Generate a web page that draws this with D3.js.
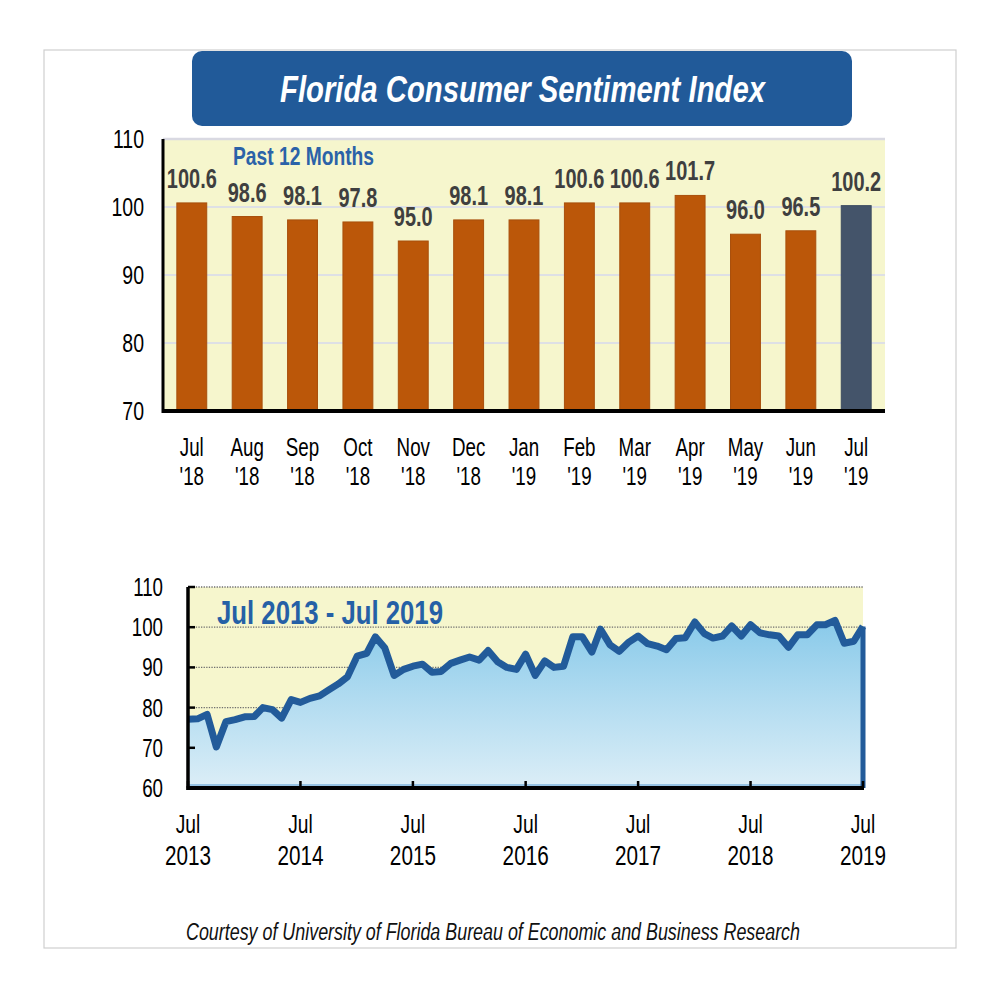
<!DOCTYPE html>
<html>
<head>
<meta charset="utf-8">
<script src="https://cdn.jsdelivr.net/npm/d3@7"></script>
<style>
  html, body { margin: 0; padding: 0; background: #ffffff; }
  svg { display: block; }
  text { font-family: "Liberation Sans", Arial, sans-serif; }
</style>
</head>
<body>
<svg id="chart" width="1000" height="1000"></svg>
<script>
// ---------------- DATA ----------------
const title = "Florida Consumer Sentiment Index";
const barSubtitle = "Past 12 Months";
const barMonths = ["Jul", "Aug", "Sep", "Oct", "Nov", "Dec", "Jan", "Feb", "Mar", "Apr", "May", "Jun", "Jul"];
const barYears  = ["'18", "'18", "'18", "'18", "'18", "'18", "'19", "'19", "'19", "'19", "'19", "'19", "'19"];
const barValues = [100.6, 98.6, 98.1, 97.8, 95.0, 98.1, 98.1, 100.6, 100.6, 101.7, 96.0, 96.5, 100.2];
const barYTicks = [70, 80, 90, 100, 110];

const lineSubtitle = "Jul 2013 - Jul 2019";
const lineStart = { year: 2013, month: 6 }; // July 2013 (0-based month)
const lineValues = [
  77.1, 77.2, 78.3, 70.2, 76.5, 77.0, 77.7, 77.8, 80.0, 79.5, 77.4, 82.0,   // Jul13 - Jun14
  81.3, 82.3, 82.9, 84.4, 85.9, 87.7, 92.8, 93.5, 97.6, 94.8, 88.0, 89.5,   // Jul14 - Jun15
  90.3, 90.8, 88.8, 89.0, 91.0, 91.8, 92.6, 91.8, 94.2, 91.4, 90.0, 89.5,   // Jul15 - Jun16
  93.3, 88.0, 91.6, 90.0, 90.3, 97.6, 97.6, 93.8, 99.5, 95.6, 94.0, 96.3,   // Jul16 - Jun17
  97.8, 95.9, 95.3, 94.4, 97.2, 97.4, 101.3, 98.4, 97.3, 97.8, 100.3, 97.8, // Jul17 - Jun18
  100.6, 98.6, 98.1, 97.8, 95.0, 98.1, 98.1, 100.6, 100.6, 101.7, 96.0, 96.5, // Jul18 - Jun19
  100.2                                                                       // Jul19
];
const lineYTicks = [60, 70, 80, 90, 100, 110];
const lineXTickMonth = ["Jul", "Jul", "Jul", "Jul", "Jul", "Jul", "Jul"];
const lineXTickYear  = ["2013", "2014", "2015", "2016", "2017", "2018", "2019"];
const footer = "Courtesy of University of Florida Bureau of Economic and Business Research";

// ---------------- STYLE ----------------
const SX = 0.74; // horizontal condense for narrow look
const svg = d3.select("#chart");

function ctext(g, x, y, str, opts) {
  const t = g.append("text")
    .attr("transform", `translate(${x},${y}) scale(${opts.sx ?? SX},1)`)
    .attr("text-anchor", opts.anchor || "middle")
    .attr("font-size", opts.size)
    .attr("font-weight", opts.weight || "normal")
    .attr("font-style", opts.style || "normal")
    .attr("fill", opts.fill || "#000")
    .text(str);
  return t;
}

// outer frame
svg.append("rect").attr("x", 44).attr("y", 50).attr("width", 912).attr("height", 898)
  .attr("fill", "none").attr("stroke", "#cfcfcf").attr("stroke-width", 1.2);

// title box
svg.append("rect").attr("x", 192).attr("y", 51).attr("width", 660).attr("height", 75)
  .attr("rx", 10).attr("fill", "#215a99");
svg.append("text").attr("x", 280).attr("y", 102)
  .attr("font-size", 37).attr("font-weight", "bold").attr("font-style", "italic")
  .attr("fill", "#ffffff").attr("textLength", 485).attr("lengthAdjust", "spacingAndGlyphs")
  .text(title);

// ---------------- TOP BAR CHART ----------------
const tb = { x0: 163, x1: 885, y0: 139, y1: 411 };
const xb = d3.scaleBand().domain(d3.range(barValues.length)).range([tb.x0, tb.x1])
  .paddingInner(0.46).paddingOuter(0.25);
const yb = d3.scaleLinear().domain([70, 110]).range([tb.y1, tb.y0]);

const gTop = svg.append("g");
gTop.append("rect").attr("x", tb.x0).attr("y", tb.y0)
  .attr("width", tb.x1 - tb.x0).attr("height", tb.y1 - tb.y0).attr("fill", "#f6f6cd");

gTop.selectAll("line.grid").data(barYTicks.filter(d => d > 70)).enter().append("line")
  .attr("x1", tb.x0).attr("x2", tb.x1)
  .attr("y1", d => yb(d)).attr("y2", d => yb(d))
  .attr("stroke", d => d === 110 ? "#d9d9e2" : "#d6d8ec")
  .attr("stroke-width", d => d === 110 ? 2.5 : 1.5);

gTop.selectAll("rect.bar").data(barValues).enter().append("rect")
  .attr("x", (d, i) => xb(i)).attr("width", xb.bandwidth())
  .attr("y", d => yb(d)).attr("height", d => yb(70) - yb(d))
  .attr("fill", (d, i) => i === barValues.length - 1 ? "#44546a" : "#bb5709")
  .attr("stroke", (d, i) => i === barValues.length - 1 ? "#3d4c60" : "#a84f0c")
  .attr("stroke-width", 1);

barValues.forEach((v, i) => {
  ctext(gTop, xb(i) + xb.bandwidth() / 2, yb(v) - 15, v.toFixed(1),
    { size: 27, weight: "bold", fill: "#3f3f3f", sx: 0.74 });
});

// axes
gTop.append("line").attr("x1", tb.x0).attr("x2", tb.x0).attr("y1", tb.y0).attr("y2", tb.y1 + 2)
  .attr("stroke", "#000").attr("stroke-width", 3);
gTop.append("line").attr("x1", tb.x0 - 1).attr("x2", tb.x1).attr("y1", tb.y1).attr("y2", tb.y1)
  .attr("stroke", "#000").attr("stroke-width", 4);

barYTicks.forEach(t => {
  ctext(gTop, 144, yb(t) + 9, String(t), { size: 26, anchor: "end", sx: 0.75 });
});
barMonths.forEach((m, i) => {
  const cx = xb(i) + xb.bandwidth() / 2;
  ctext(gTop, cx, 456, m, { size: 25, sx: 0.75 });
  ctext(gTop, cx, 485, barYears[i], { size: 25, sx: 0.75 });
});

gTop.append("text").attr("x", 233).attr("y", 165)
  .attr("font-size", 25).attr("font-weight", "bold").attr("fill", "#2b62a8")
  .attr("textLength", 141).attr("lengthAdjust", "spacingAndGlyphs").text(barSubtitle);

// ---------------- BOTTOM LINE CHART ----------------
const bb = { x0: 188, x1: 863, y0: 587, y1: 788 };
const dates = lineValues.map((v, i) => new Date(lineStart.year, lineStart.month + i, 1));
const xl = d3.scaleTime().domain([dates[0], dates[dates.length - 1]]).range([bb.x0, bb.x1]);
const yl = d3.scaleLinear().domain([60, 110]).range([bb.y1, bb.y0]);
const pts = lineValues.map((v, i) => ({ d: dates[i], v }));

const gBot = svg.append("g");
const defs = svg.append("defs");
const grad = defs.append("linearGradient").attr("id", "areaGrad")
  .attr("gradientUnits", "userSpaceOnUse").attr("x1", 0).attr("x2", 0)
  .attr("y1", yl(100)).attr("y2", yl(60));
grad.append("stop").attr("offset", 0).attr("stop-color", "#8ccbea");
grad.append("stop").attr("offset", 0.35).attr("stop-color", "#a9d8ef");
grad.append("stop").attr("offset", 1).attr("stop-color", "#dceef7");

gBot.append("rect").attr("x", bb.x0).attr("y", bb.y0)
  .attr("width", bb.x1 - bb.x0).attr("height", bb.y1 - bb.y0).attr("fill", "#f6f6cd");

gBot.selectAll("line.grid").data(lineYTicks.filter(d => d > 60)).enter().append("line")
  .attr("x1", bb.x0).attr("x2", bb.x1)
  .attr("y1", d => yl(d)).attr("y2", d => yl(d))
  .attr("stroke", "#6f6f6f").attr("stroke-width", 1.3).attr("stroke-dasharray", "1.3,1.3");

const area = d3.area().x(p => xl(p.d)).y0(yl(60)).y1(p => yl(p.v));
gBot.append("path").datum(pts).attr("d", area).attr("fill", "url(#areaGrad)");

// thin blue line along the bottom
gBot.append("line").attr("x1", bb.x0).attr("x2", bb.x1).attr("y1", bb.y1 - 3).attr("y2", bb.y1 - 3)
  .attr("stroke", "#7fb3dc").attr("stroke-width", 1.5);

const line = d3.line().x(p => xl(p.d)).y(p => yl(p.v));
gBot.append("path").datum(pts).attr("d", line)
  .attr("fill", "none").attr("stroke", "#225b9a").attr("stroke-width", 7)
  .attr("stroke-linejoin", "round").attr("stroke-linecap", "butt");
// right edge drop
const last = pts[pts.length - 1];
gBot.append("line").attr("x1", xl(last.d)).attr("x2", xl(last.d))
  .attr("y1", yl(last.v)).attr("y2", yl(60))
  .attr("stroke", "#225b9a").attr("stroke-width", 5);

// axes
gBot.append("line").attr("x1", bb.x0).attr("x2", bb.x0).attr("y1", bb.y0).attr("y2", bb.y1 + 2)
  .attr("stroke", "#000").attr("stroke-width", 3.5);
gBot.append("line").attr("x1", bb.x0 - 1.5).attr("x2", bb.x1 + 1).attr("y1", bb.y1).attr("y2", bb.y1)
  .attr("stroke", "#000").attr("stroke-width", 4);
lineYTicks.forEach(t => {
  gBot.append("line").attr("x1", bb.x0).attr("x2", bb.x0 + 7).attr("y1", yl(t)).attr("y2", yl(t))
    .attr("stroke", "#000").attr("stroke-width", 2.5);
  ctext(gBot, 163, yl(t) + 9, String(t), { size: 25, anchor: "end", sx: 0.75 });
});
const julTicks = lineXTickYear.map(y => new Date(+y, 6, 1));
julTicks.forEach((d, i) => {
  gBot.append("line").attr("x1", xl(d)).attr("x2", xl(d)).attr("y1", bb.y1).attr("y2", bb.y1 - 7)
    .attr("stroke", "#000").attr("stroke-width", 2.5);
  ctext(gBot, xl(d), 833, lineXTickMonth[i], { size: 26, sx: 0.74 });
  ctext(gBot, xl(d), 865, lineXTickYear[i], { size: 28, sx: 0.74 });
});

gBot.append("text").attr("x", 217).attr("y", 624)
  .attr("font-size", 34).attr("font-weight", "bold").attr("fill", "#2560a6")
  .attr("textLength", 226).attr("lengthAdjust", "spacingAndGlyphs").text(lineSubtitle);

// footer
svg.append("text").attr("x", 186).attr("y", 940)
  .attr("font-size", 23).attr("font-style", "italic").attr("fill", "#111")
  .attr("textLength", 614).attr("lengthAdjust", "spacingAndGlyphs").text(footer);
</script>
</body>
</html>
